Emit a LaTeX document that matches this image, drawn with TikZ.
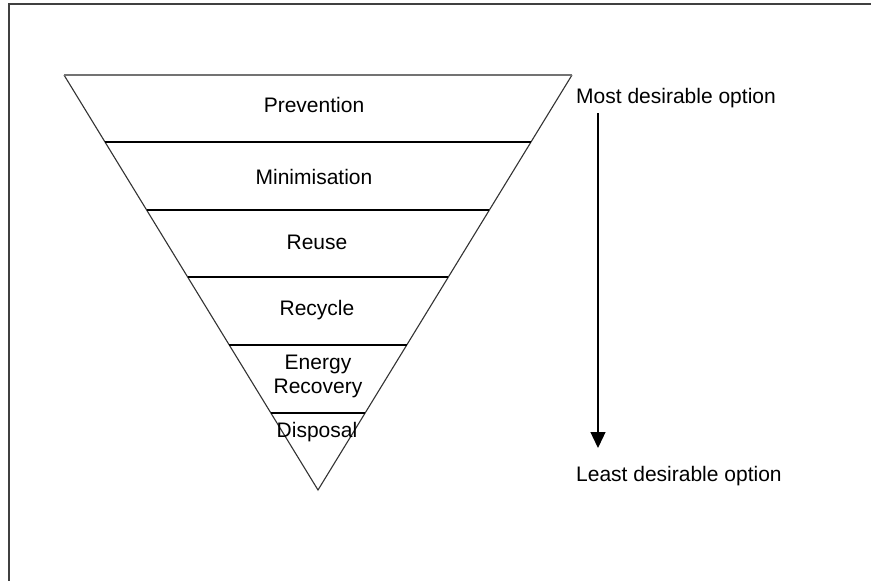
\documentclass[tikz,border=0pt]{standalone}
\usepackage{fontspec}
\setmainfont{Liberation Sans}
\usetikzlibrary{arrows.meta}
\begin{document}
\begin{tikzpicture}[x=1pt,y=-1pt,
  frame/.style={draw=black!75,line width=2pt},
  side/.style={draw=black!80,line width=1.1pt},
  topedge/.style={draw=black!55,line width=2.2pt},
  band/.style={draw=black,line width=1.2pt},
  lbl/.style={font=\fontsize{21}{25}\selectfont,inner sep=0pt},
  side lbl/.style={lbl,anchor=west},
  flow/.style={draw=black,line width=1.3pt,-{Triangle[length=16pt,width=15pt]}}]
\useasboundingbox (0,0) rectangle (871,581);
\fill[white] (0,0) rectangle (871,581);
% frame (only top and left edges are visible)
\coordinate (fA) at (8.5,583);
\coordinate (fB) at (8.5,3.5);
\coordinate (fC) at (873,3.5);
\draw[frame] (fA) -- (fB) -- (fC);
% triangle
\coordinate (tl) at (64,75);
\coordinate (tr) at (572,75);
\coordinate (ap) at (318,490);
\draw[side] (tl) -- (ap) -- (tr);
\draw[topedge] (tl) -- (tr);
% bands
\foreach \yy/\nm in {142/b1,210/b2,277/b3,345/b4,413/b5}{
  \pgfmathsetmacro{\hw}{0.61205*(490-\yy)}
  \coordinate (\nm l) at (318-\hw,\yy);
  \coordinate (\nm r) at (318+\hw,\yy);
  \draw[band] (\nm l) -- (\nm r);
}
% labels
\node[lbl] (prev) at (314,105) {Prevention};
\node[lbl] (mini) at (314,177) {Minimisation};
\node[lbl] (reuse) at (317,242) {Reuse};
\node[lbl] (recy) at (317,310) {Recycle};
\node[lbl] (ener) at (318,364) {Energy};
\node[lbl] (reco) at (318,388) {Recovery};
\node[lbl] (disp) at (317,432) {Disposal};
% side labels
\node[side lbl] (most) at (576,98) {Most desirable option};
\node[side lbl] (least) at (576,476) {Least desirable option};
\coordinate (arS) at (598,113);
\coordinate (arE) at (598,448);
\draw[flow] (arS) -- (arE);
\end{tikzpicture}
\end{document}
